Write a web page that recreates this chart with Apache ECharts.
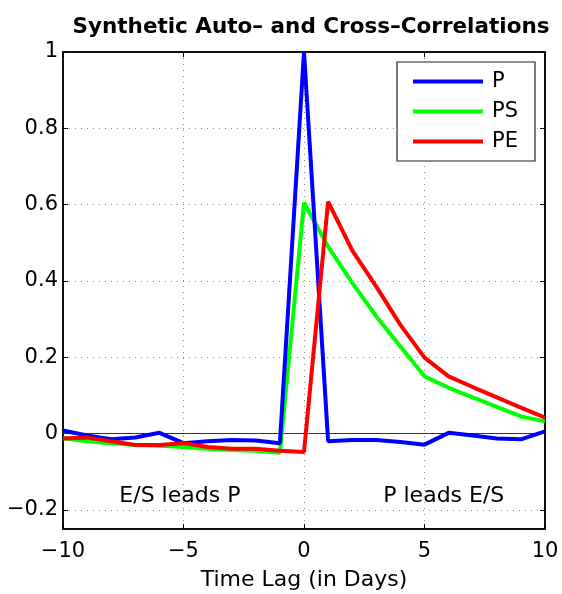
<!DOCTYPE html>
<html><head><meta charset="utf-8">
<script src="https://cdn.jsdelivr.net/npm/echarts@6/dist/echarts.min.js"></script>
<style>html,body{margin:0;padding:0;background:#fff}#c{width:562px;height:594px}</style>
</head><body><div id="c"></div>
<script>
const lags = [-10,-9,-8,-7,-6,-5,-4,-3,-2,-1,0,1,2,3,4,5,6,7,8,9,10];
const seriesP  = [0.008,-0.005,-0.015,-0.01,0.002,-0.025,-0.02,-0.017,-0.018,-0.025,1.0,-0.02,-0.017,-0.017,-0.022,-0.029,0.002,-0.005,-0.013,-0.015,0.006];
const seriesPS = [-0.012,-0.02,-0.025,-0.03,-0.032,-0.035,-0.04,-0.043,-0.045,-0.05,0.605,0.49,0.395,0.307,0.228,0.15,0.12,0.095,0.07,0.045,0.032];
const seriesPE = [-0.013,-0.01,-0.02,-0.03,-0.03,-0.025,-0.035,-0.04,-0.04,-0.045,-0.048,0.608,0.48,0.385,0.285,0.199,0.15,0.122,0.095,0.068,0.042];
const seriesNames = ['P','PS','PE'];
const yTicks = [-0.2,0,0.2,0.4,0.6,0.8,1];
const xTicks = [-10,-5,0,5,10];
const notes = [{text:'E/S leads P', x:-5.15, y:-0.165},{text:'P leads E/S', x:5.8, y:-0.165}];

const FONT = '"DejaVu Sans", Verdana, sans-serif';
const fmt = v => { const s = String(Math.round(v*100)/100); return s.replace('-', '\u2212'); };
const pair = arr => lags.map((x,i)=>[x, arr[i]]);
const colors = ['#0000ff','#00ff00','#ff0000'];

const chart = echarts.init(document.getElementById('c'), null, {renderer:'canvas'});
const commonX = {type:'value', min:-10, max:10, interval:5};
const commonY = {type:'value', min:-0.25, max:1};
chart.setOption({
  animation:false,
  backgroundColor:'#fff',
  title:{text:'Synthetic Auto\u2013 and Cross\u2013Correlations', left:306, textAlign:'center', top:11,
    textStyle:{fontFamily:FONT, fontSize:21.5, fontWeight:'bold', color:'#000'}},
  grid:{left:63, right:17, top:52, bottom:65, show:true, borderColor:'#000', borderWidth:1.5, backgroundColor:'#fff',
    containLabel:false, outerBoundsMode:'none'},
  legend:{data:seriesNames, orient:'vertical', right:27, top:62, backgroundColor:'#fff',
    borderColor:'#222', borderWidth:1.2, padding:[9,17,9,16], itemGap:9, itemWidth:70, itemHeight:4,
    icon:'rect', textStyle:{fontFamily:FONT, fontSize:21, color:'#000', padding:[0,0,0,4]}},
  xAxis:[
    Object.assign({}, commonX, {position:'bottom', name:'Time Lag (in Days)', nameLocation:'middle', nameGap:40,
      nameTextStyle:{fontFamily:FONT, fontSize:22, color:'#000'},
      axisLine:{show:true, onZero:false, lineStyle:{color:'#000', width:1.5}},
      axisTick:{show:true, inside:true, length:5, lineStyle:{color:'#000'}},
      axisLabel:{fontFamily:FONT, fontSize:21, color:'#000', margin:12, formatter:fmt, customValues:xTicks},
      splitLine:{show:true, lineStyle:{type:[1,5], color:'#888', width:1}}}),
    Object.assign({}, commonX, {position:'top',
      axisLine:{show:true, onZero:false, lineStyle:{color:'#000', width:1.5}},
      axisTick:{show:true, inside:true, length:5, lineStyle:{color:'#000'}},
      axisLabel:{show:false}, splitLine:{show:false}})
  ],
  yAxis:[
    Object.assign({}, commonY, {position:'left',
      axisLine:{show:true, onZero:false, lineStyle:{color:'#000', width:1.5}},
      axisTick:{show:true, inside:true, length:5, lineStyle:{color:'#000'}, customValues:yTicks},
      axisLabel:{fontFamily:FONT, fontSize:21, color:'#000', margin:5, formatter:fmt, customValues:yTicks},
      splitLine:{show:true, lineStyle:{type:[1,5], color:'#888', width:1}}}),
    Object.assign({}, commonY, {position:'right',
      axisLine:{show:true, onZero:false, lineStyle:{color:'#000', width:1.5}},
      axisTick:{show:true, inside:true, length:5, lineStyle:{color:'#000'}, customValues:yTicks},
      axisLabel:{show:false}, splitLine:{show:false}})
  ],
  series:[
    {name:'P', type:'line', data:pair(seriesP), symbol:'none', color:colors[0], lineStyle:{width:4, color:colors[0]}, z:4,
      markLine:{silent:true, symbol:'none', label:{show:false}, lineStyle:{color:'#333', width:1, type:'solid'}, data:[{yAxis:0}], z:1},
      markPoint:{silent:true, symbol:'circle', symbolSize:0,
        label:{show:true, position:'inside', fontFamily:FONT, fontSize:22, color:'#000', formatter:p=>p.name},
        data:notes.map(n=>({name:n.text, coord:[n.x, n.y], value:n.text}))}},
    {name:'PS', type:'line', data:pair(seriesPS), symbol:'none', color:colors[1], lineStyle:{width:4, color:colors[1]}, z:3},
    {name:'PE', type:'line', data:pair(seriesPE), symbol:'none', color:colors[2], lineStyle:{width:4, color:colors[2]}, z:5}
  ]
});
</script></body></html>
